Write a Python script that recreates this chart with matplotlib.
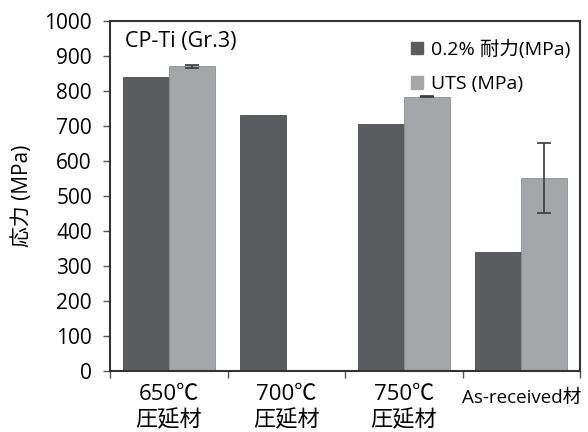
import numpy as np
import matplotlib
matplotlib.use("Agg")
import matplotlib.pyplot as plt
from matplotlib.patches import Patch

plt.rcParams['font.family'] = ['Open Sans', 'Noto Sans CJK JP', 'DejaVu Sans']

# data
categories = ["650℃\n圧延材", "700℃\n圧延材", "750℃\n圧延材", "As-received材"]
proof = [840, 730, 706, 341]
uts = [870, np.nan, 784, 550]
uts_err = [3, 0, 2, 100]
series_names = ["0.2% 耐力(MPa)", "UTS (MPa)"]

dark = "#5b5c60"
light = "#a5a6a9"

fig = plt.figure(figsize=(5.88, 4.32), dpi=100)
ax = fig.add_axes([110 / 588, 1 - 371 / 432, 470 / 588, 350 / 432])

x = np.arange(len(categories))
w = 0.39
ax.bar(x - w / 2, proof, w, color=dark, edgecolor="#4a4b4e", linewidth=0.6)
uts_vals = np.array(uts, dtype=float)
ok = ~np.isnan(uts_vals)
ax.bar(x[ok] + w / 2, uts_vals[ok], w, color=light, edgecolor="#8e8f92", linewidth=0.6)
ax.errorbar(x[ok] + w / 2, uts_vals[ok], yerr=np.array(uts_err)[ok], fmt="none",
            ecolor="#3a3a3a", elinewidth=1.2, capsize=5, capthick=1.2)

ax.set_xlim(-0.5, len(categories) - 0.5)
ax.set_ylim(0, 1000)
ax.set_yticks(np.arange(0, 1001, 100))
ax.set_xticks(np.arange(-0.5, len(categories), 1.0))
ax.set_xticklabels([])
ax.tick_params(axis="x", length=5, color="#555555", width=1)
ax.tick_params(axis="y", length=5, color="#555555", width=1, labelsize=15, pad=8)
for s in ax.spines.values():
    s.set_color("#333333")
    s.set_linewidth(1.5)

for i, lab in enumerate(categories):
    if "\n" in lab:
        ax.text(i, -0.037, lab, transform=ax.get_xaxis_transform(), ha="center",
                va="top", fontsize=16, linespacing=1.3)
    else:
        ax.text(i, -0.05, lab, transform=ax.get_xaxis_transform(), ha="center",
                va="top", fontsize=13.5)

ax.set_ylabel("応力 (MPa)", fontsize=15, labelpad=8)
ax.text(0.032, 0.94, "CP-Ti (Gr.3)", transform=ax.transAxes, fontsize=15.5,
        va="center", ha="left")

handles = [Patch(color=dark), Patch(color=light)]
ax.legend(handles, series_names, loc="upper right", bbox_to_anchor=(1.0, 0.975),
          frameon=False, fontsize=14, handlelength=0.6, handleheight=0.6,
          handletextpad=0.4, labelspacing=0.85, borderaxespad=0.1)

fig.savefig("out.png", dpi=100)
